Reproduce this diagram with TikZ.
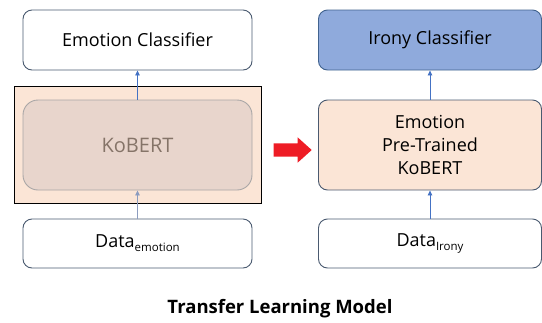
\documentclass[tikz,border=0pt]{standalone}
\usepackage{fontspec}
\setmainfont{Open Sans}
\usetikzlibrary{shapes.arrows,arrows.meta}
\definecolor{boxline}{HTML}{4A5A70}
\definecolor{ironyfill}{HTML}{8FAADC}
\definecolor{ironyline}{HTML}{41638F}
\definecolor{peach}{HTML}{FBE5D6}
\definecolor{kbfill}{HTML}{E8D5CC}
\definecolor{kbline}{HTML}{A9A6A6}
\definecolor{kbtext}{HTML}{857468}
\definecolor{arrowblue}{HTML}{4472C4}
\definecolor{arrowgray}{HTML}{8C9CBF}
\definecolor{redarrow}{HTML}{EE1C25}
\newcommand{\sub}[1]{\raisebox{-0.4ex}{\fontsize{11.5}{11.5}\selectfont #1}}

\begin{document}
\begin{tikzpicture}[x=1pt,y=-1pt]
\tikzset{
  box/.style={draw=boxline, line width=0.9pt, rounded corners=9pt, inner sep=0pt,
    align=center, font=\fontsize{18}{23}\selectfont},
  up/.style={-{Triangle[length=5pt,width=4.5pt]}, line width=0.8pt, draw=arrowblue}
}
\useasboundingbox (0,0) rectangle (542,322);
% left column
\node[box, minimum width=229pt, minimum height=60pt] (emoclass) at (137.5,40) {Emotion Classifier};
\node[draw=black, fill=peach, line width=0.9pt, minimum width=247pt, minimum height=117pt, inner sep=0pt] (frame) at (137.5,144.5) {};
\node[box, draw=kbline, fill=kbfill, rounded corners=15pt, minimum width=229pt, minimum height=90pt,
  text=kbtext, font=\fontsize{20}{24}\selectfont] (kobert) at (137.5,145) {KoBERT};
\node[box, minimum width=229pt, minimum height=49pt] (dataemo) at (137.5,243.5) {Data\sub{emotion}};
\draw[up] (kobert.north) -- (emoclass.south);
\draw[up, draw=arrowgray] (dataemo.north) -- (kobert.south);
% transfer arrow
\node[single arrow, fill=redarrow, minimum height=38pt, inner xsep=0pt, inner ysep=6.5pt,
  single arrow head extend=6pt, single arrow tip angle=84] (transfer) at (289,150) {};
% right column
\node[box, draw=ironyline, fill=ironyfill, minimum width=223pt, minimum height=60pt] (ironyclass) at (430,40) {Irony Classifier};
\node[box, fill=peach, minimum width=223pt, minimum height=90pt] (pretrained) at (430,145) {Emotion\\Pre-Trained\\KoBERT};
\node[box, minimum width=223pt, minimum height=49pt] (datairony) at (430,243.5) {Data\sub{Irony}};
\draw[up] (pretrained.north) -- (ironyclass.south);
\draw[up] (datairony.north) -- (pretrained.south);
% caption
\node[font=\bfseries\fontsize{18.5}{22}\selectfont] (title) at (280,309) {Transfer Learning Model};
\end{tikzpicture}
\end{document}
